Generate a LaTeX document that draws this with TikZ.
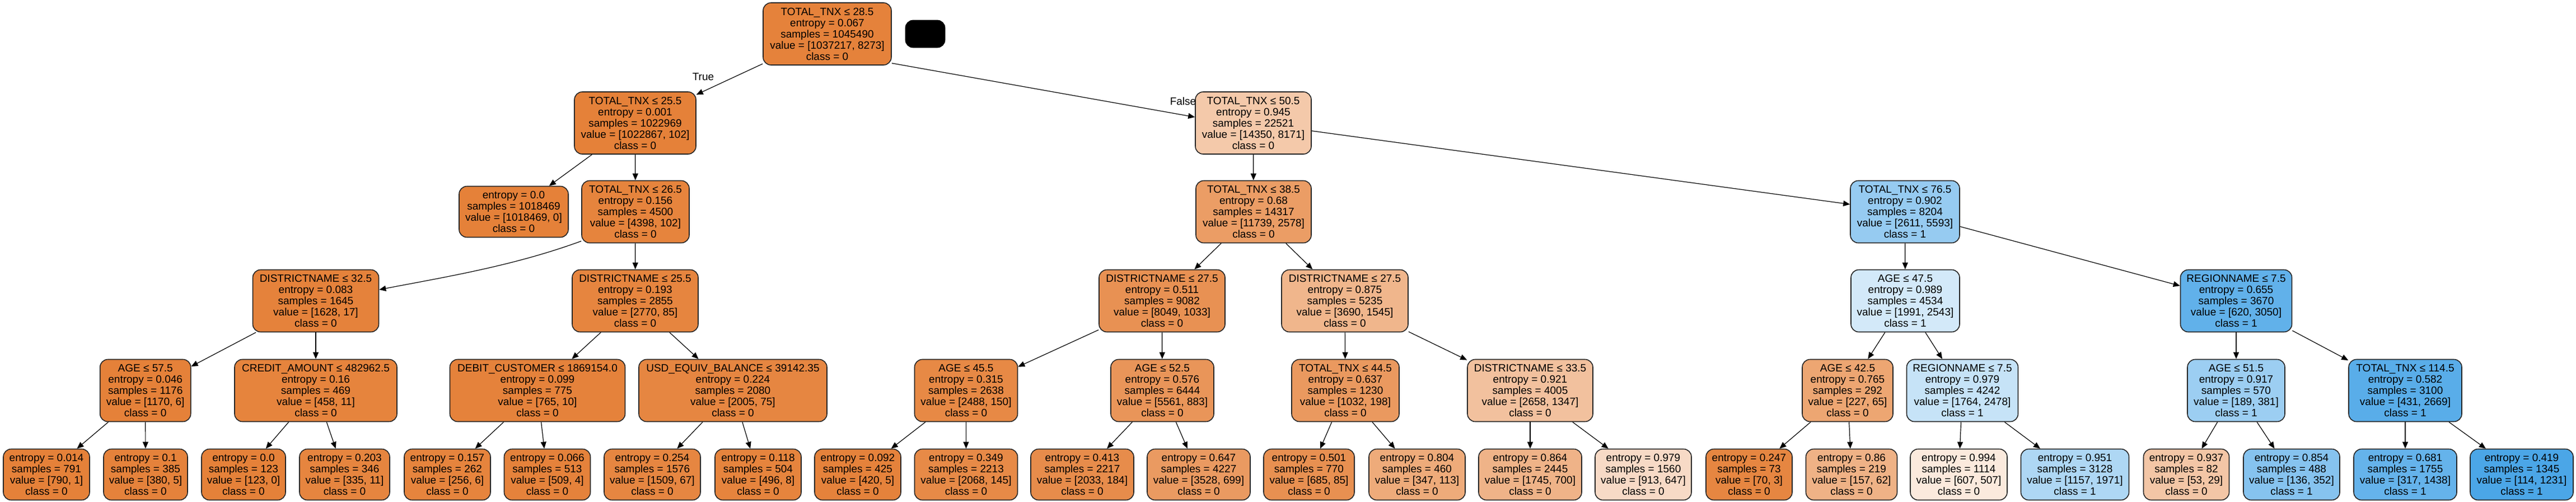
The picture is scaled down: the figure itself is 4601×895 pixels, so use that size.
\documentclass[tikz,border=0pt]{standalone}
\usepackage{fontspec}
\setmainfont{Liberation Sans}
\usetikzlibrary{arrows.meta,calc}
\definecolor{cz}{RGB}{229,129,57}
\definecolor{co}{RGB}{57,157,229}
\tikzset{
  nd/.style={draw=black!85, line width=0.8pt, rounded corners=7pt, inner sep=0pt,
    align=center, minimum height=111*0.5pt, font=\fontsize{9.5}{10}\selectfont},
  lf/.style={nd, minimum height=91*0.5pt},
  conn/.style={draw=black, line width=0.6pt, -{Triangle[length=6pt,width=5pt]}},
  lbl/.style={inner sep=0pt, font=\fontsize{9.5}{10}\selectfont}
}
\begin{document}
\begin{tikzpicture}[x=0.5pt,y=-0.5pt]
\useasboundingbox (0,0) rectangle (4601,895);
\fill[white] (0,0) rectangle (4601,895);
% level 0
\node[nd, fill=cz!99, minimum width=229*0.5pt] (root) at (1477.5,60.5) {TOTAL\_TNX ≤ 28.5\\entropy = 0.067\\samples = 1045490\\value = [1037217, 8273]\\class = 0};
\node[draw=black, fill=black, rounded corners=7pt, minimum width=71*0.5pt, minimum height=49*0.5pt, inner sep=0pt] (blk) at (1652.5,60.5) {};
% level 1
\node[nd, fill=cz, minimum width=217*0.5pt] (A) at (1134.5,219.5) {TOTAL\_TNX ≤ 25.5\\entropy = 0.001\\samples = 1022969\\value = [1022867, 102]\\class = 0};
\node[nd, fill=cz!43, minimum width=207*0.5pt] (B) at (2238.5,219.5) {TOTAL\_TNX ≤ 50.5\\entropy = 0.945\\samples = 22521\\value = [14350, 8171]\\class = 0};
% level 2
\node[lf, fill=cz, minimum width=195*0.5pt] (A1) at (917.5,378) {entropy = 0.0\\samples = 1018469\\value = [1018469, 0]\\class = 0};
\node[nd, fill=cz!98, minimum width=192*0.5pt] (A2) at (1135,378) {TOTAL\_TNX ≤ 26.5\\entropy = 0.156\\samples = 4500\\value = [4398, 102]\\class = 0};
\node[nd, fill=cz!78, minimum width=206*0.5pt] (B1) at (2239,378) {TOTAL\_TNX ≤ 38.5\\entropy = 0.68\\samples = 14317\\value = [11739, 2578]\\class = 0};
\node[nd, fill=co!53, minimum width=195*0.5pt] (B2) at (3402.5,378) {TOTAL\_TNX ≤ 76.5\\entropy = 0.902\\samples = 8204\\value = [2611, 5593]\\class = 1};
% level 3
\node[nd, fill=cz!99, minimum width=225*0.5pt] (C1) at (564,537) {DISTRICTNAME ≤ 32.5\\entropy = 0.083\\samples = 1645\\value = [1628, 17]\\class = 0};
\node[nd, fill=cz!97, minimum width=225*0.5pt] (C2) at (1134.5,537) {DISTRICTNAME ≤ 25.5\\entropy = 0.193\\samples = 2855\\value = [2770, 85]\\class = 0};
\node[nd, fill=cz!87, minimum width=225*0.5pt] (C3) at (2075.5,537) {DISTRICTNAME ≤ 27.5\\entropy = 0.511\\samples = 9082\\value = [8049, 1033]\\class = 0};
\node[nd, fill=cz!58, minimum width=226*0.5pt] (C4) at (2402,537) {DISTRICTNAME ≤ 27.5\\entropy = 0.875\\samples = 5235\\value = [3690, 1545]\\class = 0};
\node[nd, fill=co!22, minimum width=194*0.5pt] (C5) at (3403,537) {AGE ≤ 47.5\\entropy = 0.989\\samples = 4534\\value = [1991, 2543]\\class = 1};
\node[nd, fill=co!80, minimum width=199*0.5pt] (C6) at (3994,537) {REGIONNAME ≤ 7.5\\entropy = 0.655\\samples = 3670\\value = [620, 3050]\\class = 1};
% level 4
\node[nd, fill=cz!100, minimum width=162*0.5pt] (D1) at (259.7,697) {AGE ≤ 57.5\\entropy = 0.046\\samples = 1176\\value = [1170, 6]\\class = 0};
\node[nd, fill=cz!98, minimum width=290*0.5pt] (D2) at (564,697) {CREDIT\_AMOUNT ≤ 482962.5\\entropy = 0.16\\samples = 469\\value = [458, 11]\\class = 0};
\node[nd, fill=cz!99, minimum width=313*0.5pt] (D3) at (960,697) {DEBIT\_CUSTOMER ≤ 1869154.0\\entropy = 0.099\\samples = 775\\value = [765, 10]\\class = 0};
\node[nd, fill=cz!96, minimum width=336*0.5pt] (D4) at (1309,697) {USD\_EQUIV\_BALANCE ≤ 39142.35\\entropy = 0.224\\samples = 2080\\value = [2005, 75]\\class = 0};
\node[nd, fill=cz!94, minimum width=184*0.5pt] (D5) at (1725.5,697) {AGE ≤ 45.5\\entropy = 0.315\\samples = 2638\\value = [2488, 150]\\class = 0};
\node[nd, fill=cz!84, minimum width=184*0.5pt] (D6) at (2076,697) {AGE ≤ 52.5\\entropy = 0.576\\samples = 6444\\value = [5561, 883]\\class = 0};
\node[nd, fill=cz!81, minimum width=192*0.5pt] (D7) at (2403,697) {TOTAL\_TNX ≤ 44.5\\entropy = 0.637\\samples = 1230\\value = [1032, 198]\\class = 0};
\node[nd, fill=cz!49, minimum width=224*0.5pt] (D8) at (2733,697) {DISTRICTNAME ≤ 33.5\\entropy = 0.921\\samples = 4005\\value = [2658, 1347]\\class = 0};
\node[nd, fill=cz!71, minimum width=162*0.5pt] (D9) at (3300,697) {AGE ≤ 42.5\\entropy = 0.765\\samples = 292\\value = [227, 65]\\class = 0};
\node[nd, fill=co!29, minimum width=199*0.5pt] (D10) at (3505,697) {REGIONNAME ≤ 7.5\\entropy = 0.979\\samples = 4242\\value = [1764, 2478]\\class = 1};
\node[nd, fill=co!50, minimum width=174*0.5pt] (D11) at (3994,697) {AGE ≤ 51.5\\entropy = 0.917\\samples = 570\\value = [189, 381]\\class = 1};
\node[nd, fill=co!84, minimum width=202*0.5pt] (D12) at (4296,697) {TOTAL\_TNX ≤ 114.5\\entropy = 0.582\\samples = 3100\\value = [431, 2669]\\class = 1};
% level 5 leaves
\node[lf, fill=cz!100, minimum width=154*0.5pt] (L1) at (83,847) {entropy = 0.014\\samples = 791\\value = [790, 1]\\class = 0};
\node[lf, fill=cz!99, minimum width=150*0.5pt] (L2) at (260,847) {entropy = 0.1\\samples = 385\\value = [380, 5]\\class = 0};
\node[lf, fill=cz!100, minimum width=150*0.5pt] (L3) at (435,847) {entropy = 0.0\\samples = 123\\value = [123, 0]\\class = 0};
\node[lf, fill=cz!97, minimum width=161*0.5pt] (L4) at (615.5,847) {entropy = 0.203\\samples = 346\\value = [335, 11]\\class = 0};
\node[lf, fill=cz!98, minimum width=154*0.5pt] (L5) at (799,847) {entropy = 0.157\\samples = 262\\value = [256, 6]\\class = 0};
\node[lf, fill=cz!99, minimum width=154*0.5pt] (L6) at (977.5,847) {entropy = 0.066\\samples = 513\\value = [509, 4]\\class = 0};
\node[lf, fill=cz!96, minimum width=172*0.5pt] (L7) at (1165,847) {entropy = 0.254\\samples = 1576\\value = [1509, 67]\\class = 0};
\node[lf, fill=cz!98, minimum width=154*0.5pt] (L8) at (1354,847) {entropy = 0.118\\samples = 504\\value = [496, 8]\\class = 0};
\node[lf, fill=cz!99, minimum width=154*0.5pt] (L9) at (1532,847) {entropy = 0.092\\samples = 425\\value = [420, 5]\\class = 0};
\node[lf, fill=cz!93, minimum width=184*0.5pt] (L10) at (1725.5,847) {entropy = 0.349\\samples = 2213\\value = [2068, 145]\\class = 0};
\node[lf, fill=cz!91, minimum width=184*0.5pt] (L11) at (1933,847) {entropy = 0.413\\samples = 2217\\value = [2033, 184]\\class = 0};
\node[lf, fill=cz!80, minimum width=184*0.5pt] (L12) at (2141,847) {entropy = 0.647\\samples = 4227\\value = [3528, 699]\\class = 0};
\node[lf, fill=cz!88, minimum width=162*0.5pt] (L13) at (2338,847) {entropy = 0.501\\samples = 770\\value = [685, 85]\\class = 0};
\node[lf, fill=cz!67, minimum width=172*0.5pt] (L14) at (2531,847) {entropy = 0.804\\samples = 460\\value = [347, 113]\\class = 0};
\node[lf, fill=cz!60, minimum width=184*0.5pt] (L15) at (2733,847) {entropy = 0.864\\samples = 2445\\value = [1745, 700]\\class = 0};
\node[lf, fill=cz!29, minimum width=172*0.5pt] (L16) at (2935,847) {entropy = 0.979\\samples = 1560\\value = [913, 647]\\class = 0};
\node[lf, fill=cz!96, minimum width=154*0.5pt] (L17) at (3124,847) {entropy = 0.247\\samples = 73\\value = [70, 3]\\class = 0};
\node[lf, fill=cz!61, minimum width=163*0.5pt] (L18) at (3307,847) {entropy = 0.86\\samples = 219\\value = [157, 62]\\class = 0};
\node[lf, fill=cz!17, minimum width=173*0.5pt] (L19) at (3498.5,847) {entropy = 0.994\\samples = 1114\\value = [607, 507]\\class = 0};
\node[lf, fill=co!41, minimum width=193*0.5pt] (L20) at (3706,847) {entropy = 0.951\\samples = 3128\\value = [1157, 1971]\\class = 1};
\node[lf, fill=cz!45, minimum width=153*0.5pt] (L21) at (3905,847) {entropy = 0.937\\samples = 82\\value = [53, 29]\\class = 0};
\node[lf, fill=co!61, minimum width=172*0.5pt] (L22) at (4093,847) {entropy = 0.854\\samples = 488\\value = [136, 352]\\class = 1};
\node[lf, fill=co!78, minimum width=184*0.5pt] (L23) at (4296,847) {entropy = 0.681\\samples = 1755\\value = [317, 1438]\\class = 1};
\node[lf, fill=co!91, minimum width=184*0.5pt] (L24) at (4504,847) {entropy = 0.419\\samples = 1345\\value = [114, 1231]\\class = 1};
% edge labels
\node[lbl] (tlab) at (1256,137) {True};
\node[lbl] (flab) at (2113,181) {False};
% edges
\draw[conn] (root) -- (A);
\draw[conn] ($(root.south east)+(0,-4)$) -- ($(B.west)+(0,-10.5)$);
\draw[conn] (A) -- (A1);
\draw[conn] (A) -- (A2);
\draw[conn] (B) -- (B1);
\draw[conn] (B) -- (B2);
\draw[conn] ($(A2.south west)+(0,-4)$) .. controls ($(A2.south west)+(-120,40)$) and ($(C1.east)+(120,-43)$) .. ($(C1.east)+(0,-20)$);
\draw[conn] (A2) -- (C2);
\draw[conn] (B1) -- (C3);
\draw[conn] (B1) -- (C4);
\draw[conn] (B2) -- (C5);
\draw[conn] (B2) -- (C6);
\draw[conn] (C1) -- (D1);
\draw[conn] (C1) -- (D2);
\draw[conn] (C2) -- (D3);
\draw[conn] (C2) -- (D4);
\draw[conn] (C3) -- (D5);
\draw[conn] (C3) -- (D6);
\draw[conn] (C4) -- (D7);
\draw[conn] (C4) -- (D8);
\draw[conn] (C5) -- (D9);
\draw[conn] (C5) -- (D10);
\draw[conn] (C6) -- (D11);
\draw[conn] (C6) -- (D12);
\draw[conn] (D1) -- (L1);
\draw[conn] (D1) -- (L2);
\draw[conn] (D2) -- (L3);
\draw[conn] (D2) -- (L4);
\draw[conn] (D3) -- (L5);
\draw[conn] (D3) -- (L6);
\draw[conn] (D4) -- (L7);
\draw[conn] (D4) -- (L8);
\draw[conn] (D5) -- (L9);
\draw[conn] (D5) -- (L10);
\draw[conn] (D6) -- (L11);
\draw[conn] (D6) -- (L12);
\draw[conn] (D7) -- (L13);
\draw[conn] (D7) -- (L14);
\draw[conn] (D8) -- (L15);
\draw[conn] (D8) -- (L16);
\draw[conn] (D9) -- (L17);
\draw[conn] (D9) -- (L18);
\draw[conn] (D10) -- (L19);
\draw[conn] (D10) -- (L20);
\draw[conn] (D11) -- (L21);
\draw[conn] (D11) -- (L22);
\draw[conn] (D12) -- (L23);
\draw[conn] (D12) -- (L24);
\end{tikzpicture}
\end{document}
